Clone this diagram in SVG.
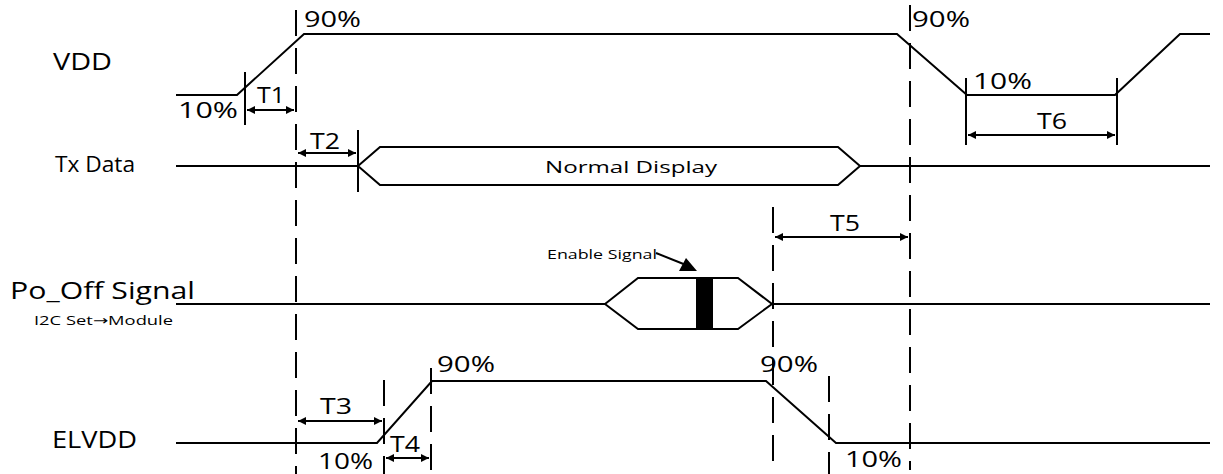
<svg xmlns="http://www.w3.org/2000/svg" width="1223" height="474" viewBox="0 0 1223 474">
<style>
.sig{fill:none;stroke:#000;stroke-width:2}
.dash{fill:none;stroke:#000;stroke-width:2;stroke-dasharray:26 12}
.mk{fill:none;stroke:#000;stroke-width:2}
.arr{fill:none;stroke:#000;stroke-width:2;marker-start:url(#ah);marker-end:url(#ah)}
text{font-family:"Open Sans","Noto Sans","DejaVu Sans",sans-serif;fill:#000}
.lbl{font-size:23px}
.pct{font-size:21px}
.sm{font-size:13px}
</style>
<defs>
<marker id="ah" viewBox="0 0 10 10" refX="10" refY="5" markerWidth="5" markerHeight="4" orient="auto-start-reverse" markerUnits="strokeWidth">
<path d="M0,0 L10,5 L0,10 z" fill="#000"/>
</marker>
</defs>
<rect width="1223" height="474" fill="#fff"/>

<g id="label-vdd"><text class="lbl" x="53" y="70" textLength="59" lengthAdjust="spacingAndGlyphs">VDD</text></g>
<g id="label-tx"><text class="lbl" x="55" y="172" style="font-size:22px" textLength="80" lengthAdjust="spacingAndGlyphs">Tx Data</text></g>
<g id="label-pooff"><text class="lbl" x="10" y="299" style="font-size:24px" textLength="185" lengthAdjust="spacingAndGlyphs">Po_Off Signal</text><text class="sm" x="34" y="325" textLength="139" lengthAdjust="spacingAndGlyphs">I2C Set→Module</text></g>
<g id="label-elvdd"><text class="lbl" x="52" y="448" textLength="85" lengthAdjust="spacingAndGlyphs">ELVDD</text></g>

<g id="vdd-signal">
<polyline class="sig" points="176,95 237,95 304,34 897,34 967,95 1115,95 1180,34 1210,34"/>
<text class="pct" x="178" y="118" textLength="60" lengthAdjust="spacingAndGlyphs">10%</text>
<text class="pct" x="304" y="27" textLength="57" lengthAdjust="spacingAndGlyphs">90%</text>
<text class="pct" x="912" y="27" textLength="58" lengthAdjust="spacingAndGlyphs">90%</text>
<text class="pct" x="973" y="89" textLength="59" lengthAdjust="spacingAndGlyphs">10%</text>
</g>

<g id="tx-signal">
<polyline class="sig" points="176,166 358,166"/>
<polygon class="sig" points="358,166 380,147 838,147 860,166 838,185 380,185"/>
<polyline class="sig" points="860,166 1210,166"/>
<text class="sm" x="545" y="173" style="font-size:17px" textLength="172" lengthAdjust="spacingAndGlyphs">Normal Display</text>
</g>

<g id="pooff-signal">
<polyline class="sig" points="176,304 605,304"/>
<polygon class="sig" points="605,304 638,278 738,278 772,304 738,329 638,329"/>
<rect x="696" y="278" width="17" height="51" fill="#000"/>
<polyline class="sig" points="772,304 1210,304"/>
<text class="sm" x="547" y="259" textLength="110" lengthAdjust="spacingAndGlyphs">Enable Signal</text>
</g>

<g id="elvdd-signal">
<polyline class="sig" points="176,443 377,443 432,381 766,381 836,443 1210,443"/>
<text class="pct" x="318" y="469" textLength="55" lengthAdjust="spacingAndGlyphs">10%</text>
<text class="pct" x="437" y="372" textLength="58" lengthAdjust="spacingAndGlyphs">90%</text>
<text class="pct" x="760" y="372" textLength="58" lengthAdjust="spacingAndGlyphs">90%</text>
<text class="pct" x="845" y="467" textLength="57" lengthAdjust="spacingAndGlyphs">10%</text>
</g>

<g id="connectors">
<line class="dash" x1="296" y1="10" x2="296" y2="474"/>
<line class="dash" x1="910" y1="5" x2="910" y2="470"/>
<line class="dash" x1="773" y1="207" x2="773" y2="470"/>
<line class="dash" x1="829" y1="376" x2="829" y2="474"/>
<line class="dash" x1="384" y1="380" x2="384" y2="474"/>
<line class="dash" x1="431" y1="368" x2="431" y2="474"/>
<line class="mk" x1="245" y1="72" x2="245" y2="125"/>
<line class="mk" x1="358" y1="130" x2="358" y2="192"/>
<line class="mk" x1="966" y1="78" x2="966" y2="145"/>
<line class="mk" x1="1117" y1="78" x2="1117" y2="145"/>
<line class="arr" x1="247" y1="110" x2="294" y2="110"/>
<line class="arr" x1="298" y1="153" x2="356" y2="153"/>
<line class="arr" x1="775" y1="237" x2="908" y2="237"/>
<line class="arr" x1="968" y1="135" x2="1115" y2="135"/>
<line class="arr" x1="298" y1="421" x2="382" y2="421"/>
<line class="arr" x1="386" y1="458" x2="429" y2="458"/>
<line class="mk" x1="656" y1="253" x2="686" y2="265"/>
<polygon points="697,271 679,271 686,258" fill="#000"/>
<text class="pct" x="257" y="103" textLength="28" lengthAdjust="spacingAndGlyphs">T1</text>
<text class="pct" x="310" y="149" textLength="30" lengthAdjust="spacingAndGlyphs">T2</text>
<text class="pct" x="320" y="414" textLength="32" lengthAdjust="spacingAndGlyphs">T3</text>
<text class="pct" x="390" y="452" textLength="30" lengthAdjust="spacingAndGlyphs">T4</text>
<text class="pct" x="830" y="231" textLength="30" lengthAdjust="spacingAndGlyphs">T5</text>
<text class="pct" x="1037" y="129" textLength="30" lengthAdjust="spacingAndGlyphs">T6</text>
</g>
</svg>
